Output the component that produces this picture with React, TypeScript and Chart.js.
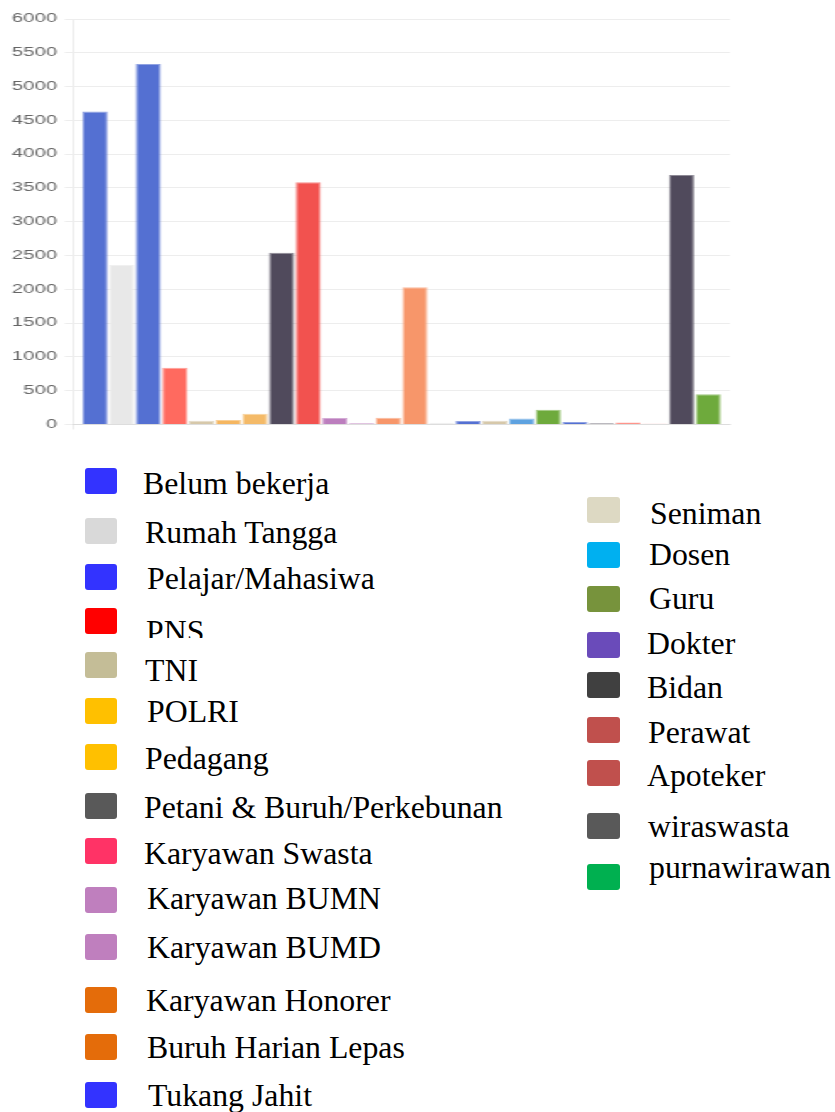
import React, { useEffect, useRef } from 'react';
import { Chart, registerables } from 'chart.js';

Chart.register(...registerables);

// ---- chart data ----
const occupations = [
  'Belum bekerja', 'Rumah Tangga', 'Pelajar/Mahasiwa', 'PNS', 'TNI', 'POLRI', 'Pedagang',
  'Petani & Buruh/Perkebunan', 'Karyawan Swasta', 'Karyawan BUMN', 'Karyawan BUMD',
  'Karyawan Honorer', 'Buruh Harian Lepas', 'Lainnya', 'Tukang Jahit', 'Seniman', 'Dosen',
  'Guru', 'Dokter', 'Bidan', 'Perawat', 'Apoteker', 'wiraswasta', 'purnawirawan',
];
const counts = [4630, 2360, 5335, 840, 55, 65, 158, 2540, 3585, 95, 20, 100, 2030, 25, 50, 55, 88, 220, 38, 18, 30, 12, 3690, 447];
const barColors = [
  '#5470D2', '#E8E8E8', '#5470D2', '#FF6A5F', '#D6C8AA', '#F5B660', '#F4BA68', '#504A5C',
  '#F2524F', '#BC7EBE', '#BC7EBE', '#F7966A', '#F7966A', '#E8E8E8', '#5470D2', '#D6C8AA',
  '#5EA2E0', '#6EAA3C', '#5470D2', '#504A5C', '#FF786C', '#F8675F', '#504A5C', '#6EAA3C',
];
const yMin = 0;
const yMax = 6000;
const yStep = 500;

// ---- hand-made legend (as in the reference) ----
const legendLeftNames = [
  'Belum bekerja', 'Rumah Tangga', 'Pelajar/Mahasiwa', 'PNS', 'TNI', 'POLRI', 'Pedagang',
  'Petani & Buruh/Perkebunan', 'Karyawan Swasta', 'Karyawan BUMN', 'Karyawan BUMD',
  'Karyawan Honorer', 'Buruh Harian Lepas', 'Tukang Jahit',
];
const legendLeftColors = [
  '#3333FF', '#D9D9D9', '#3333FF', '#FF0000', '#C4BD97', '#FFC000', '#FFC000', '#595959',
  '#FF3366', '#BF7FBE', '#BF7FBE', '#E46C0A', '#E46C0A', '#3333FF',
];
const legendRightNames = [
  'Seniman', 'Dosen', 'Guru', 'Dokter', 'Bidan', 'Perawat', 'Apoteker', 'wiraswasta', 'purnawirawan',
];
const legendRightColors = [
  '#DDD9C3', '#00B0F0', '#77933C', '#6A4BBA', '#404040', '#C0504D', '#C0504D', '#595959', '#00B050',
];
// layout only: [box top, text baseline, text left]
const legendLeftLayout = [
  [468, 495, 143], [518, 544, 145], [564, 590, 147], [608, 643, 146], [652, 682, 145],
  [698, 723, 147], [744, 770, 145], [793, 819, 144], [838, 865, 144], [887, 910, 147],
  [934, 959, 147], [987, 1012, 146], [1034, 1059, 147], [1082, 1107, 148],
];
const legendRightLayout = [
  [497, 525, 650], [542, 566, 649], [586, 610, 649], [632, 655, 647], [672, 699, 647],
  [717, 744, 648], [760, 787, 647], [813, 838, 648], [864, 879, 649],
];

const FONT_SIZE = 31.8;
const BASE_OFF = FONT_SIZE * (0.891 - (1.107 - 1) / 2);

function withAlpha(hex: string, a: number) {
  const n = parseInt(hex.slice(1), 16);
  return `rgba(${(n >> 16) & 255},${(n >> 8) & 255},${n & 255},${a})`;
}

function LegendItem({ name, color, layout, boxLeft, boxW, clipBottom }: any) {
  const [boxTop, baseline, textLeft] = layout;
  const textTop = baseline - BASE_OFF;
  const text = (
    <div
      style={{
        position: 'absolute',
        left: clipBottom ? 0 : textLeft,
        top: clipBottom ? 0 : textTop,
        fontFamily: "'Liberation Serif', 'Times New Roman', serif",
        fontSize: FONT_SIZE,
        lineHeight: `${FONT_SIZE}px`,
        whiteSpace: 'nowrap',
        color: '#000',
      }}
    >
      {name}
    </div>
  );
  return (
    <>
      <div
        style={{
          position: 'absolute',
          left: boxLeft,
          top: boxTop,
          width: boxW,
          height: 26,
          borderRadius: 3,
          background: color,
        }}
      />
      {clipBottom ? (
        <div
          style={{
            position: 'absolute',
            left: textLeft,
            top: textTop,
            width: 200,
            height: clipBottom - textTop,
            overflow: 'hidden',
          }}
        >
          {text}
        </div>
      ) : (
        text
      )}
    </>
  );
}

export default function App() {
  const canvasRef = useRef<HTMLCanvasElement | null>(null);

  useEffect(() => {
    const canvas = canvasRef.current;
    if (!canvas) return;
    const datasets = counts.map((v, i) => ({
      label: occupations[i],
      data: [v],
      backgroundColor: barColors[i],
      borderColor: withAlpha(barColors[i], 0.65),
      borderWidth: 1,
      categoryPercentage: 0.974,
      barPercentage: 0.955,
    }));
    const gridColor = 'rgba(0,0,0,0.07)';
    const chart = new Chart(canvas, {
      type: 'bar',
      data: { labels: [''], datasets },
      options: {
        responsive: false,
        animation: false,
        devicePixelRatio: 1,
        layout: { padding: { left: 2.62, right: 5.9, top: 19, bottom: 10.5 } },
        plugins: {
          legend: { display: false },
          tooltip: { enabled: false },
        },
        font: { family: "'Liberation Sans', Arial, sans-serif", size: 12 },
        scales: {
          x: {
            ticks: { display: false },
            grid: {
              drawOnChartArea: false,
              tickLength: 5,
              color: (ctx: any) => (ctx.index === 0 ? gridColor : 'rgba(0,0,0,0)'),
            },
            border: { color: gridColor },
          },
          y: {
            min: yMin,
            max: yMax,
            ticks: {
              stepSize: yStep,
              padding: 4.5,
              color: '#666',
              font: { family: "'Liberation Sans', Arial, sans-serif", size: 12 },
              callback: (v: any) => String(v),
            },
            grid: { color: gridColor, tickLength: 5 },
            border: { color: gridColor },
          },
        },
      },
    } as any);
    return () => chart.destroy();
  }, []);

  return (
    <div style={{ position: 'fixed', left: 0, top: 0, width: 835, height: 1112, overflow: 'hidden', background: '#fff' }}>
      <canvas
        ref={canvasRef}
        width={439}
        height={440}
        style={{ position: 'absolute', left: 0, top: 0, width: 740, height: 440 }}
      />
      {legendLeftNames.map((n, i) => (
        <LegendItem
          key={'l' + i}
          name={n}
          color={legendLeftColors[i]}
          layout={legendLeftLayout[i]}
          boxLeft={85}
          boxW={32}
          clipBottom={n === 'PNS' ? 638 : 0}
        />
      ))}
      {legendRightNames.map((n, i) => (
        <LegendItem
          key={'r' + i}
          name={n}
          color={legendRightColors[i]}
          layout={legendRightLayout[i]}
          boxLeft={587}
          boxW={33}
          clipBottom={0}
        />
      ))}
    </div>
  );
}
